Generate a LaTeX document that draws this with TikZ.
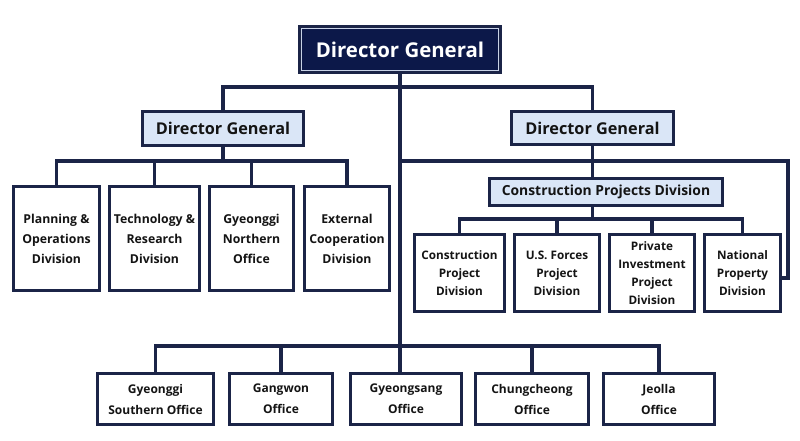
\documentclass[tikz,border=0pt]{standalone}
\usepackage{fontspec}
\setmainfont{Open Sans}
\definecolor{navy}{HTML}{1B2447}
\definecolor{topfill}{HTML}{0C1849}
\definecolor{lightb}{HTML}{DAE6F7}
\definecolor{innerl}{HTML}{C8D2E6}
\begin{document}
\begin{tikzpicture}[x=0.75pt,y=-0.75pt,
  conn/.style={draw=navy,line width=2.3pt},
  wh/.style 2 args={minimum width=#1*0.75pt-2.3pt,minimum height=#2*0.75pt-2.3pt},
  box/.style={draw=navy,line width=2.3pt,fill=white,align=center,inner sep=0pt,
    text=black!92,font=\bfseries\fontsize{9.2}{15}\selectfont},
  rbox/.style={box,font=\bfseries\fontsize{8.8}{13.5}\selectfont},
  bbox/.style={box,font=\bfseries\fontsize{9.0}{15.75}\selectfont},
  dgbox/.style={box,fill=lightb,font=\bfseries\fontsize{12.2}{15}\selectfont},
  cpdbox/.style={box,fill=lightb,font=\bfseries\fontsize{10.4}{13}\selectfont},
  topbox/.style={box,fill=topfill,text=white,font=\bfseries\fontsize{15.3}{19}\selectfont}]
\useasboundingbox (0,0) rectangle (800,440);
% nodes
\node[topbox,wh={204}{49}] (top) at (400,49.5) {Director General};
\draw[innerl,line width=0.8pt] ([xshift=2.4pt,yshift=-2.4pt]top.north west) rectangle ([xshift=-2.4pt,yshift=2.4pt]top.south east);
\node[dgbox,wh={164}{37}] (dgL) at (223,128.5) {Director General};
\node[dgbox,wh={165}{36}] (dgR) at (592.5,128) {Director General};
\node[box,wh={89}{107}] (L1) at (56.5,238.5) {Planning \&\\Operations\\Division};
\node[box,wh={93}{107}] (L2) at (154.5,238.5) {Technology \&\\Research\\Division};
\node[box,wh={87}{107}] (L3) at (251.5,238.5) {Gyeonggi\\Northern\\Office};
\node[box,wh={88}{107}] (L4) at (347,238.5) {External\\Cooperation\\Division};
\node[cpdbox,wh={236}{30}] (cpd) at (606,192) {Construction Projects Division};
\node[rbox,wh={93}{80}] (R1) at (459.5,273) {Construction\\Project\\Division};
\node[rbox,wh={88}{80}] (R2) at (557,273) {U.S. Forces\\Project\\Division};
\node[rbox,wh={88}{80}] (R3) at (652,273) {Private\\Investment\\Project\\Division};
\node[rbox,wh={79}{80}] (R4) at (742.5,273) {National\\Property\\Division};
\node[bbox,wh={119}{54}] (B1) at (155.5,399) {Gyeonggi\\Southern Office};
\node[bbox,wh={106}{54}] (B2) at (281,399) {Gangwon\\Office};
\node[bbox,wh={114}{54}] (B3) at (406,399) {Gyeongsang\\Office};
\node[bbox,wh={116}{54}] (B4) at (532,399) {Chungcheong\\Office};
\node[bbox,wh={114}{54}] (B5) at (659,399) {Jeolla\\Office};
% bus coordinates
\coordinate (tb) at (400,87);
\coordinate (lb) at (0,161);
\coordinate (rb) at (0,161);
\coordinate (cb) at (0,219);
\coordinate (bb) at (0,346);
\coordinate (rc) at (788,278);
% connectors
\draw[conn] (top.south) -- (top.south |- B3.north);
\draw[conn] (dgL.north) -- (dgL.north |- tb) -- (dgR.north |- tb) -- (dgR.north);
\draw[conn] (dgL.south) -- (dgL.south |- lb);
\draw[conn] (L1.north) -- (L1.north |- lb) -- (L4.north |- lb) -- (L4.north);
\draw[conn] (L2.north) -- (L2.north |- lb);
\draw[conn] (L3.north) -- (L3.north |- lb);
\draw[conn] (top.south |- rb) -| (rc) -- (rc -| R4.east);
\draw[conn] (dgR.south) -- (dgR.south |- cpd.north);
\draw[conn] (dgR.south |- cpd.south) -- (dgR.south |- cb);
\draw[conn] (R1.north) -- (R1.north |- cb) -- (R4.north |- cb) -- (R4.north);
\draw[conn] (R2.north) -- (R2.north |- cb);
\draw[conn] (R3.north) -- (R3.north |- cb);
\draw[conn] (B1.north) -- (B1.north |- bb) -- (B5.north |- bb) -- (B5.north);
\draw[conn] (B2.north) -- (B2.north |- bb);
\draw[conn] (B4.north) -- (B4.north |- bb);
\end{tikzpicture}
\end{document}
